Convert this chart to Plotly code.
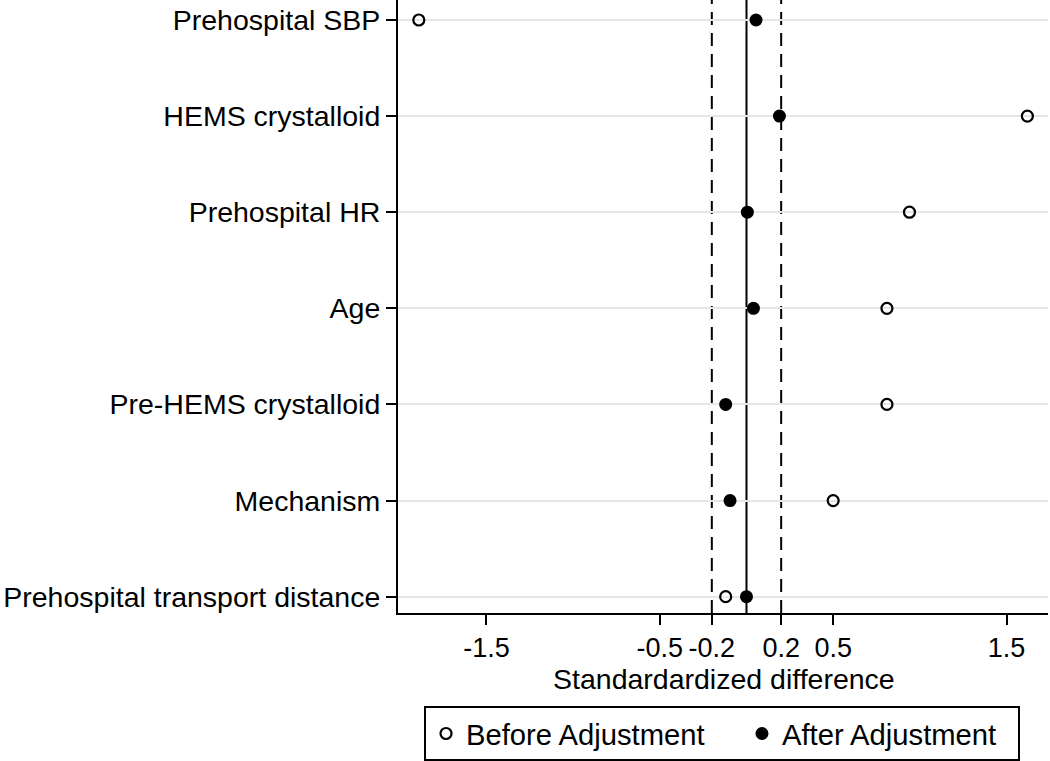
import plotly.graph_objects as go

categories = ["Prehospital SBP", "HEMS crystalloid", "Prehospital HR", "Age",
              "Pre-HEMS crystalloid", "Mechanism", "Prehospital transport distance"]
before_adj = [-1.89, 1.62, 0.94, 0.81, 0.81, 0.50, -0.12]
after_adj = [0.055, 0.19, 0.005, 0.04, -0.12, -0.095, 0.0]
x_ticks = [-1.5, -0.5, -0.2, 0.2, 0.5, 1.5]
x_tick_labels = ["-1.5", "-0.5", "-0.2", "0.2", "0.5", "1.5"]
x_title = "Standardardized difference"

ypos = list(range(len(categories)))
FONT = "Liberation Sans, Arial, sans-serif"
FS = 28.5
LFS = 29.2

fig = go.Figure()
fig.add_trace(go.Scatter(
    x=before_adj, y=ypos, mode="markers", name="Before Adjustment\u00a0\u00a0\u00a0\u00a0",
    marker=dict(symbol="circle-open", size=11, color="black", line=dict(width=2.2, color="black")),
))
fig.add_trace(go.Scatter(
    x=after_adj, y=ypos, mode="markers", name="After Adjustment\u00a0\u00a0",
    marker=dict(symbol="circle", size=13, color="black"),
))

for xv, dash in [(-0.2, "dash"), (0.2, "dash"), (0.0, "solid")]:
    fig.add_shape(type="line", x0=xv, x1=xv, y0=0, y1=1, xref="x", yref="paper",
                  line=dict(color="black", width=2, dash="solid" if dash == "solid" else "13px,8px"),
                  layer="below")

fig.add_annotation(text=x_title, x=0.5015, y=-0.107, xref="paper", yref="paper",
                   xanchor="center", yanchor="middle", showarrow=False,
                   font=dict(size=FS, family=FONT, color="black"))

fig.update_layout(
    width=1050, height=761,
    margin=dict(l=398, r=2, t=0, b=147),
    paper_bgcolor="white", plot_bgcolor="white",
    font=dict(family=FONT, size=FS, color="black"),
    showlegend=True,
    legend=dict(orientation="h", x=0.4985, xanchor="center", y=-0.1515, yanchor="top",
                bordercolor="black", borderwidth=2, bgcolor="white",
                font=dict(size=LFS), itemwidth=30, tracegroupgap=0),
    xaxis=dict(range=[-2.01, 1.739], tickvals=x_ticks, ticktext=x_tick_labels,
               automargin=False, tickangle=0, tickfont=dict(size=27),
               showgrid=False, zeroline=False, showline=True, linecolor="black", linewidth=2,
               ticks="outside", ticklen=10, tickwidth=2, tickcolor="black"),
    yaxis=dict(range=[6.17, -0.208], tickvals=ypos, ticktext=categories,
               automargin=False, ticklabeloverflow="allow",
               showgrid=True, gridcolor="#e6e6e6", gridwidth=2, zeroline=False,
               showline=True, linecolor="black", linewidth=2,
               ticks="outside", ticklen=10, tickwidth=2, tickcolor="black"),
)

fig.write_html("out.html", config={"displayModeBar": False},
               post_script="document.body.style.margin='0px';")
